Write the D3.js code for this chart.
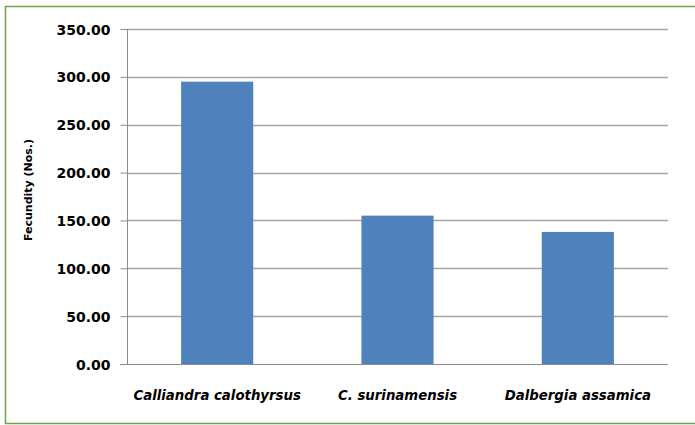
<!DOCTYPE html>
<html lang="en">
<head>
<meta charset="UTF-8">
<title>Fecundity</title>
<script src="https://d3js.org/d3.v7.min.js"></script>
<style>
  body { margin: 0; background: #fff; }
  #chart text { font-family: "DejaVu Sans", sans-serif; font-weight: bold; fill: #000; }
</style>
</head>
<body>
<div id="chart"></div>
<script>
// chart data
const species = ["Calliandra calothyrsus", "C. surinamensis", "Dalbergia assamica"];
const fecundity = [295, 155, 138];
const yTicks = [0, 50, 100, 150, 200, 250, 300, 350];
const yTitle = "Fecundity (Nos.)";

const w = 695, h = 425;
const plotLeft = 127, plotRight = 668, plotTop = 29, plotBottom = 364;

const svg = d3.select("#chart").append("svg")
    .attr("width", w)
    .attr("height", h);

// green frame round the chart
svg.append("rect")
    .attr("x", 5.5).attr("y", 6.5)
    .attr("width", 720).attr("height", 417)
    .attr("fill", "#fff")
    .attr("stroke", "#6ea54a")
    .attr("stroke-width", 1.5);

const x = d3.scaleBand()
    .domain(species)
    .range([plotLeft, plotRight])
    .paddingInner(0.6)
    .paddingOuter(0.3);

const y = d3.scaleLinear()
    .domain([0, 350])
    .range([plotBottom, plotTop]);

// gridlines
svg.append("g")
    .selectAll("line")
    .data(yTicks.filter(d => d > 0))
    .enter().append("line")
    .attr("x1", plotLeft).attr("x2", plotRight)
    .attr("y1", d => Math.round(y(d)) + 0.5)
    .attr("y2", d => Math.round(y(d)) + 0.5)
    .attr("stroke", "#a6a6a6")
    .attr("stroke-width", 1.3);

// bars
svg.append("g")
    .selectAll("rect")
    .data(fecundity)
    .enter().append("rect")
    .attr("x", (d, i) => x(species[i]))
    .attr("y", d => y(d))
    .attr("width", x.bandwidth())
    .attr("height", d => y(0) - y(d))
    .attr("fill", "#4f81bd");

// y axis
const yAxis = svg.append("g")
    .attr("transform", "translate(" + (plotLeft + 0.5) + ",0)")
    .call(d3.axisLeft(y).tickValues(yTicks).tickFormat(d3.format(".2f")).tickSize(7).tickPadding(10));
yAxis.select(".domain").attr("stroke", "#8c8c8c").attr("d", "M0," + plotTop + "V" + plotBottom);
yAxis.selectAll(".tick line").attr("stroke", "#8c8c8c");
yAxis.selectAll("text").style("font-size", "14px").attr("dy", "0.36em");

// x axis
const xAxis = svg.append("g")
    .attr("transform", "translate(0," + (plotBottom + 0.5) + ")")
    .call(d3.axisBottom(x).tickSize(0).tickPadding(26));
xAxis.select(".domain").attr("stroke", "#8c8c8c").attr("d", "M" + (plotLeft - 7) + ",0H" + plotRight);
xAxis.selectAll("text").style("font-size", "13.3px").style("font-style", "italic");

// y title
svg.append("text")
    .attr("transform", "translate(32,190) rotate(-90)")
    .attr("text-anchor", "middle")
    .style("font-size", "11px")
    .text(yTitle);
</script>
</body>
</html>
